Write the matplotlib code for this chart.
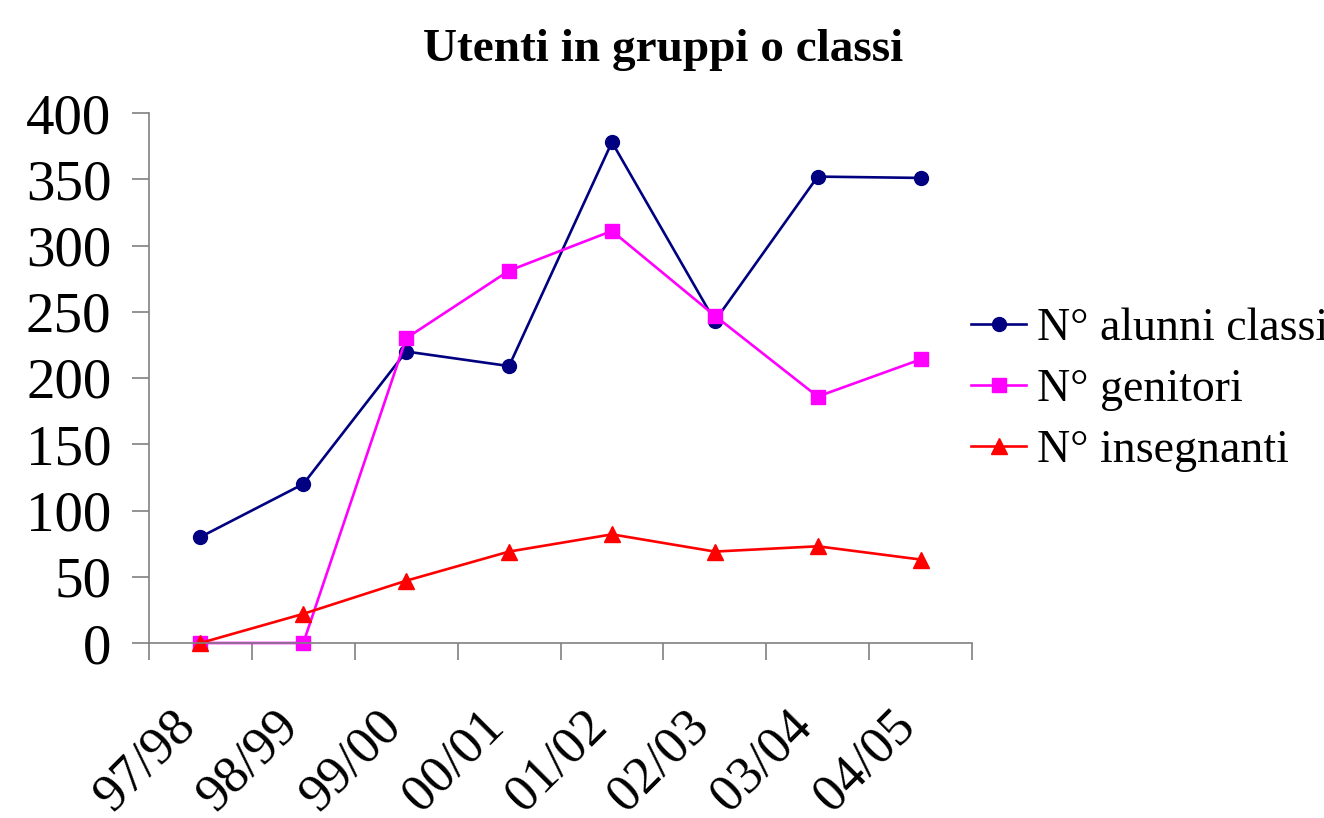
import numpy as np
import matplotlib
matplotlib.use("Agg")
import matplotlib.pyplot as plt
from matplotlib.transforms import ScaledTranslation

plt.rcParams['font.family'] = ['Liberation Serif', 'DejaVu Serif']

# data
anni = ["97/98", "98/99", "99/00", "00/01", "01/02", "02/03", "03/04", "04/05"]
alunni = [80, 120, 220, 209, 378, 243, 352, 351]
genitori = [0, 0, 230, 281, 311, 247, 186, 214]
insegnanti = [0, 22, 47, 69, 82, 69, 73, 63]

fig = plt.figure(figsize=(13.24, 8.18), dpi=100)
ax = fig.add_axes([149/1324, 1-643/818, (972-149)/1324, (643-113)/818])

x = np.arange(len(anni)) + 0.5
ax.plot(x, alunni, color="#000080", marker="o", ms=10, lw=1.9, label="N° alunni classi", clip_on=False)
ax.plot(x, genitori, color="#FF00FF", marker="s", ms=10, lw=1.9, label="N° genitori", clip_on=False)
ax.plot(x, insegnanti, color="#FF0000", marker="^", ms=11, lw=1.9, label="N° insegnanti", clip_on=False)

ax.set_xlim(0, len(anni))
ax.set_ylim(0, 400)
ax.set_yticks(range(0, 401, 50))
ax.tick_params(axis="y", labelsize=41, length=12, width=1.2, color="#808080", pad=15, direction="out")

# ticks at category boundaries, labels at centres
ax.set_xticks(np.arange(len(anni) + 1))
ax.set_xticklabels([])
ax.set_xticks(x, minor=True)
ax.set_xticklabels(anni, minor=True, rotation=45, ha="right", va="top",
                   rotation_mode="anchor", fontsize=38)
ax.tick_params(axis="x", which="major", length=12, width=1.2, color="#808080", direction="out")
ax.tick_params(axis="x", which="minor", length=0, pad=42)
shift = ScaledTranslation(-30/100, 0, fig.dpi_scale_trans)
for lab in ax.get_xticklabels(minor=True):
    lab.set_transform(lab.get_transform() + shift)

for s in ["top", "right"]:
    ax.spines[s].set_visible(False)
for s in ["left", "bottom"]:
    ax.spines[s].set_color("#808080")
    ax.spines[s].set_linewidth(1.2)

fig.text(663/1324, 1-50/818, "Utenti in gruppi o classi", ha="center", va="center",
         fontsize=34, fontweight="bold")

fig.legend(loc="center left", bbox_to_anchor=(971/1324, 1-390/818), frameon=False,
           fontsize=33, borderpad=0, borderaxespad=0, handlelength=1.2,
           handletextpad=0.25, labelspacing=0.4)

fig.savefig("out.png", dpi=100)
